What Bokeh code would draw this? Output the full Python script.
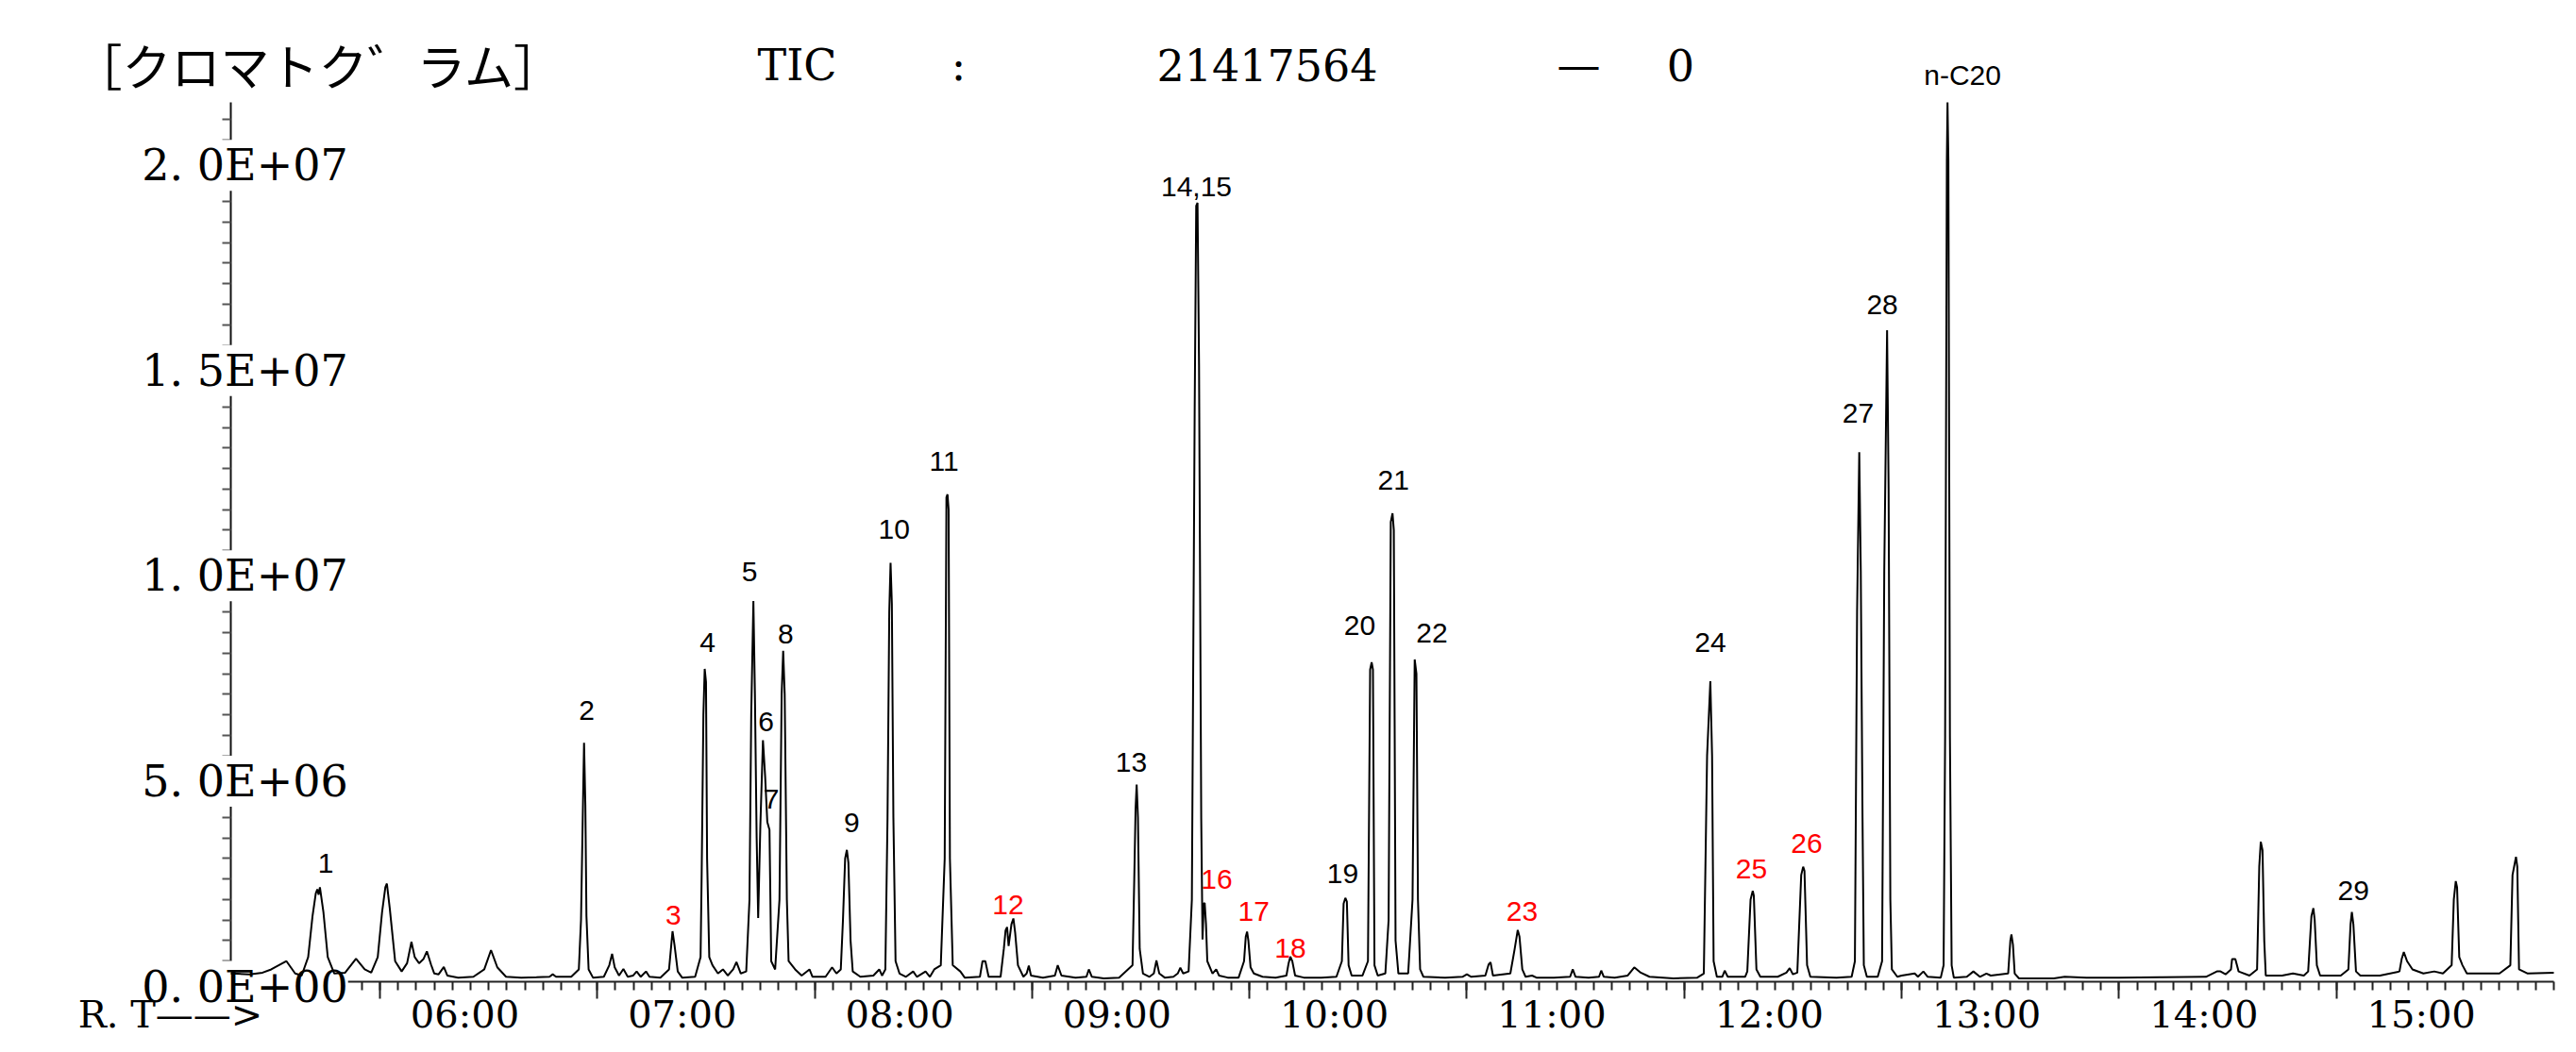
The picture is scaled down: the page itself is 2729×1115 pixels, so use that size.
from bokeh.plotting import figure
from bokeh.models import (ColumnDataSource, LabelSet, Label, FixedTicker, Range1d, LinearAxis)
from bokeh.core.properties import value
from bokeh.embed import file_html
from bokeh.resources import INLINE

# ---------------- data ----------------
X_START, X_END = 5.314, 16.0          # retention time window of the axis (min)
Y_MAX = 21417564                       # TIC full scale

# TIC trace: retention time (min) and intensity (millions of counts)
rt_min = [
    5.314, 5.40, 5.46, 5.50, 5.57, 5.61, 5.64, 5.67, 5.69, 5.705, 5.712, 5.718, 5.724, 5.74, 5.76, 5.79,
    5.84, 5.89, 5.93, 5.96, 5.99, 6.01, 6.025, 6.032, 6.045, 6.07, 6.10, 6.125, 6.145, 6.16, 6.18, 6.20,
    6.216, 6.235, 6.25, 6.27, 6.294, 6.31, 6.36, 6.43, 6.48, 6.511, 6.54, 6.58, 6.65, 6.72, 6.78, 6.795,
    6.81, 6.88, 6.915, 6.925, 6.933, 6.939, 6.945, 6.95, 6.96, 6.98, 7.03, 7.055, 7.068, 7.08, 7.10, 7.12,
    7.14, 7.165, 7.181, 7.20, 7.224, 7.24, 7.29, 7.33, 7.346, 7.355, 7.37, 7.39, 7.45, 7.475, 7.48, 7.488,
    7.494, 7.50, 7.505, 7.515, 7.53, 7.555, 7.578, 7.60, 7.625, 7.64, 7.66, 7.685, 7.70, 7.708, 7.718, 7.725,
    7.733, 7.740, 7.75, 7.762, 7.772, 7.782, 7.792, 7.80, 7.818, 7.838, 7.848, 7.855, 7.862, 7.872, 7.88, 7.91,
    7.94, 7.976, 7.99, 8.05, 8.08, 8.10, 8.12, 8.13, 8.14, 8.148, 8.155, 8.165, 8.175, 8.21, 8.27, 8.297,
    8.31, 8.325, 8.335, 8.343, 8.349, 8.355, 8.362, 8.372, 8.39, 8.42, 8.453, 8.47, 8.51, 8.53, 8.55, 8.58,
    8.598, 8.606, 8.611, 8.616, 8.622, 8.635, 8.67, 8.69, 8.76, 8.772, 8.785, 8.80, 8.855, 8.87, 8.878, 8.885,
    8.892, 8.905, 8.914, 8.922, 8.935, 8.96, 8.975, 8.985, 8.995, 9.05, 9.105, 9.118, 9.135, 9.20, 9.25, 9.261,
    9.275, 9.33, 9.40, 9.462, 9.47, 9.476, 9.481, 9.487, 9.495, 9.51, 9.54, 9.56, 9.572, 9.585, 9.61, 9.65,
    9.67, 9.682, 9.695, 9.72, 9.735, 9.748, 9.755, 9.761, 9.768, 9.778, 9.784, 9.790, 9.794, 9.80, 9.806, 9.83,
    9.847, 9.86, 9.90, 9.95, 9.975, 9.983, 9.989, 9.995, 10.005, 10.02, 10.06, 10.12, 10.17, 10.18, 10.188, 10.197,
    10.21, 10.25, 10.33, 10.40, 10.425, 10.433, 10.441, 10.448, 10.456, 10.47, 10.52, 10.545, 10.555, 10.562, 10.568, 10.575,
    10.59, 10.625, 10.64, 10.65, 10.658, 10.664, 10.672, 10.685, 10.73, 10.75, 10.76, 10.768, 10.775, 10.785, 10.80, 10.90,
    10.98, 11.00, 11.02, 11.085, 11.10, 11.109, 11.12, 11.20, 11.22, 11.234, 11.242, 11.255, 11.27, 11.30, 11.32, 11.40,
    11.475, 11.487, 11.50, 11.56, 11.608, 11.618, 11.63, 11.68, 11.74, 11.77, 11.80, 11.84, 11.95, 12.06, 12.09, 12.105,
    12.12, 12.128, 12.135, 12.15, 12.175, 12.186, 12.20, 12.28, 12.29, 12.305, 12.315, 12.32, 12.332, 12.35, 12.43, 12.47,
    12.485, 12.50, 12.52, 12.538, 12.547, 12.553, 12.565, 12.58, 12.70, 12.77, 12.785, 12.795, 12.805, 12.812, 12.82, 12.826,
    12.84, 12.89, 12.91, 12.92, 12.933, 12.94, 12.948, 12.955, 12.98, 13.00, 13.06, 13.075, 13.10, 13.12, 13.18, 13.193,
    13.20, 13.208, 13.211, 13.215, 13.222, 13.23, 13.24, 13.30, 13.33, 13.36, 13.39, 13.41, 13.49, 13.50, 13.505, 13.512,
    13.52, 13.54, 13.70, 13.75, 13.85, 14.00, 14.20, 14.40, 14.45, 14.467, 14.49, 14.515, 14.52, 14.535, 14.55, 14.60,
    14.635, 14.645, 14.652, 14.66, 14.668, 14.675, 14.75, 14.80, 14.85, 14.87, 14.885, 14.894, 14.90, 14.91, 14.925, 15.02,
    15.055, 15.065, 15.071, 15.078, 15.09, 15.11, 15.20, 15.29, 15.30, 15.31, 15.325, 15.35, 15.40, 15.45, 15.49, 15.53,
    15.54, 15.549, 15.555, 15.565, 15.58, 15.60, 15.75, 15.80, 15.81, 15.826, 15.832, 15.84, 15.88, 16.0,
]
tic_mcounts = [
    0.20, 0.18, 0.22, 0.30, 0.50, 0.20, 0.15, 0.60, 1.60, 2.15, 2.25, 2.12, 2.30, 1.70, 0.60, 0.20,
    0.22, 0.56, 0.30, 0.22, 0.60, 1.70, 2.30, 2.39, 1.80, 0.50, 0.25, 0.45, 0.97, 0.60, 0.45, 0.55,
    0.74, 0.42, 0.20, 0.18, 0.36, 0.15, 0.10, 0.12, 0.30, 0.77, 0.35, 0.12, 0.10, 0.11, 0.12, 0.18,
    0.12, 0.12, 0.30, 1.50, 4.00, 5.82, 4.30, 1.60, 0.30, 0.10, 0.12, 0.40, 0.68, 0.35, 0.15, 0.31,
    0.12, 0.15, 0.25, 0.12, 0.25, 0.12, 0.10, 0.30, 1.23, 0.90, 0.25, 0.10, 0.12, 0.60, 2.60, 6.50,
    7.62, 7.30, 3.00, 0.60, 0.40, 0.20, 0.30, 0.15, 0.30, 0.48, 0.20, 0.25, 2.00, 6.50, 9.27, 7.00,
    3.50, 1.55, 3.80, 5.88, 5.00, 3.89, 3.70, 0.50, 0.30, 2.00, 7.00, 8.06, 7.00, 2.00, 0.50, 0.30,
    0.15, 0.30, 0.12, 0.12, 0.35, 0.20, 0.30, 1.50, 3.00, 3.21, 2.90, 1.00, 0.25, 0.12, 0.15, 0.30,
    0.15, 0.30, 4.00, 9.00, 10.2, 9.20, 4.00, 0.50, 0.20, 0.12, 0.25, 0.12, 0.25, 0.12, 0.30, 0.40,
    3.00, 11.8, 11.87, 11.5, 3.00, 0.40, 0.25, 0.10, 0.12, 0.50, 0.50, 0.12, 0.12, 0.80, 1.25, 1.33,
    0.87, 1.40, 1.54, 1.20, 0.40, 0.12, 0.20, 0.39, 0.15, 0.10, 0.15, 0.40, 0.15, 0.10, 0.12, 0.30,
    0.12, 0.08, 0.10, 0.40, 2.50, 4.20, 4.80, 4.00, 0.80, 0.20, 0.12, 0.20, 0.52, 0.20, 0.10, 0.12,
    0.20, 0.34, 0.20, 0.25, 2.00, 14.0, 18.9, 18.97, 15.0, 4.00, 1.03, 1.90, 1.92, 1.40, 0.50, 0.20,
    0.30, 0.15, 0.10, 0.10, 0.50, 1.10, 1.22, 1.00, 0.35, 0.20, 0.12, 0.10, 0.15, 0.45, 0.61, 0.50,
    0.15, 0.10, 0.10, 0.12, 0.50, 1.90, 2.04, 1.95, 0.40, 0.15, 0.15, 0.50, 7.60, 7.78, 7.60, 0.40,
    0.15, 0.20, 1.50, 11.2, 11.41, 11.0, 1.00, 0.20, 0.20, 2.00, 7.85, 7.50, 2.00, 0.30, 0.12, 0.10,
    0.12, 0.18, 0.12, 0.15, 0.42, 0.47, 0.15, 0.20, 0.80, 1.26, 1.10, 0.30, 0.12, 0.15, 0.10, 0.10,
    0.12, 0.30, 0.12, 0.10, 0.12, 0.27, 0.12, 0.10, 0.15, 0.35, 0.22, 0.12, 0.08, 0.10, 0.20, 5.50,
    7.32, 5.50, 0.50, 0.12, 0.12, 0.27, 0.12, 0.12, 0.25, 2.00, 2.21, 2.10, 0.30, 0.12, 0.12, 0.22,
    0.33, 0.18, 0.22, 2.60, 2.80, 2.70, 0.40, 0.12, 0.10, 0.12, 0.50, 9.00, 12.9, 10.0, 4.00, 0.40,
    0.12, 0.12, 0.50, 10.0, 15.87, 12.0, 2.00, 0.30, 0.12, 0.15, 0.20, 0.12, 0.25, 0.12, 0.10, 0.40,
    6.00, 20.0, 21.4176, 20.0, 6.00, 0.40, 0.10, 0.12, 0.25, 0.12, 0.20, 0.15, 0.20, 1.00, 1.15, 0.90,
    0.20, 0.08, 0.08, 0.12, 0.10, 0.10, 0.11, 0.12, 0.25, 0.25, 0.18, 0.30, 0.55, 0.55, 0.25, 0.15,
    0.30, 2.80, 3.41, 3.20, 1.00, 0.15, 0.15, 0.20, 0.15, 0.25, 1.60, 1.79, 1.50, 0.40, 0.15, 0.15,
    0.30, 1.40, 1.70, 1.40, 0.25, 0.15, 0.15, 0.25, 0.55, 0.72, 0.50, 0.30, 0.20, 0.25, 0.20, 0.40,
    2.00, 2.45, 2.30, 0.60, 0.40, 0.20, 0.20, 0.40, 2.60, 3.04, 2.80, 0.30, 0.20, 0.22,
]

# peak annotations
peak_labels = ["1", "2", "3", "4", "5", "6", "7", "8", "9", "10", "11", "12", "13", "14,15",
               "16", "17", "18", "19", "20", "21", "22", "23", "24", "25", "26", "27", "28",
               "n-C20", "29"]
peak_label_rt = [5.751, 6.951, 7.350, 7.507, 7.700, 7.776, 7.800, 7.867, 8.170, 8.365, 8.595,
                 8.890, 9.456, 9.756, 9.849, 10.020, 10.188, 10.429, 10.507, 10.662, 10.839,
                 11.254, 12.120, 12.309, 12.563, 12.800, 12.911, 13.280, 15.078]
peak_label_mcounts = [3.03, 6.74, 1.76, 8.41, 10.12, 6.46, 4.58, 8.60, 4.01, 11.15, 12.81,
                      2.00, 5.47, 19.49, 2.62, 1.84, 0.95, 2.77, 8.81, 12.36, 8.64,
                      1.85, 8.40, 2.88, 3.50, 13.98, 16.62, 22.22, 2.35]
red_peaks = ["3", "12", "16", "17", "18", "23", "25", "26"]

# axes
x_major_ticks = [6, 7, 8, 9, 10, 11, 12, 13, 14, 15]
x_tick_labels = ["06:00", "07:00", "08:00", "09:00", "10:00", "11:00", "12:00", "13:00", "14:00", "15:00"]
y_major_ticks = [0, 5e6, 1e7, 1.5e7, 2e7]
y_tick_labels = ["0. 0E+00", "5. 0E+06", "1. 0E+07", "1. 5E+07", "2. 0E+07"]

title_left = "［クロマトク゛ラム］"
title_parts = ["TIC", ":", "21417564", "—", "0"]
x_axis_prefix = "R. T——>"

# ---------------- layout (pixels) ----------------
W, H = 2713, 1099
PLOT_L, PLOT_R, PLOT_T, PLOT_B = 244, 2705, 108, 1040   # plot box inside the canvas
SERIF = "DejaVu Serif"
SANS = "Liberation Sans"
CJK = "Noto Sans CJK JP"

# ranges span the whole canvas so that outside texts are not clipped
px_per_min = (PLOT_R - PLOT_L) / (X_END - X_START)
px_per_count = (PLOT_B - PLOT_T) / Y_MAX
x_rng = Range1d(X_START - PLOT_L / px_per_min, X_END + (W - PLOT_R) / px_per_min)
y_rng = Range1d(-(H - PLOT_B) / px_per_count, Y_MAX + PLOT_T / px_per_count)

p = figure(width=W, height=H, output_backend="svg", toolbar_location=None,
           x_range=x_rng, y_range=y_rng, x_axis_location=None, y_axis_location=None,
           min_border_left=0, min_border_right=0, min_border_top=0, min_border_bottom=0)
p.outline_line_color = None
p.grid.visible = False
p.background_fill_color = "white"
p.border_fill_color = "white"

xa = LinearAxis(fixed_location=0, bounds=(X_START, X_END),
                ticker=FixedTicker(ticks=x_major_ticks, minor_ticks=[m / 12 for m in range(64, 193)]))
xa.major_tick_out = 18
xa.major_tick_in = 0
xa.minor_tick_out = 9
xa.minor_tick_in = 0
xa.axis_line_width = 2
xa.major_tick_line_width = 2
xa.minor_tick_line_width = 2
xa.axis_line_color = "#222222"
xa.major_tick_line_color = "#222222"
xa.minor_tick_line_color = "#222222"
xa.major_label_text_color = None
p.add_layout(xa, "below")

ya = LinearAxis(fixed_location=X_START, bounds=(0, Y_MAX),
                ticker=FixedTicker(ticks=y_major_ticks, minor_ticks=[k * 5e5 for k in range(0, 43)]))
ya.major_tick_out = 9
ya.major_tick_in = 0
ya.minor_tick_out = 9
ya.minor_tick_in = 0
ya.axis_line_width = 2
ya.axis_line_color = "#111111"
ya.major_tick_line_color = "#555555"
ya.minor_tick_line_color = "#555555"
ya.major_tick_line_width = 2
ya.minor_tick_line_width = 2
ya.major_label_text_color = None
p.add_layout(ya, "left")

# trace
trace = p.line(rt_min, [v * 1e6 for v in tic_mcounts], line_color="black", line_width=2)
trace.level = "overlay"

# peak labels
lab_src = ColumnDataSource(dict(
    x=peak_label_rt,
    y=[v * 1e6 for v in peak_label_mcounts],
    text=peak_labels,
    color=["#ff0000" if s in red_peaks else "black" for s in peak_labels],
))
p.add_layout(LabelSet(x="x", y="y", text="text", source=lab_src, text_color="color",
                      y_offset=-6, text_font=value(SANS), text_font_size="30px",
                      text_align="center", text_baseline="middle"))

# y tick labels (centred on the axis line, white box interrupts the axis)
for v, s in zip(y_major_ticks, y_tick_labels):
    p.add_layout(Label(x=X_START, y=v, x_offset=15, y_offset=-5, text=s, text_font=SERIF,
                       text_font_size="46px", text_align="center", text_baseline="middle",
                       text_color="black", background_fill_color="white"))

# x tick labels
xt_src = ColumnDataSource(dict(x=x_major_ticks, y=[0] * len(x_major_ticks), text=x_tick_labels))
xt = LabelSet(x="x", y="y", text="text", source=xt_src, x_offset=90, y_offset=-48,
              text_font=value(SERIF), text_font_size="40px", text_align="center",
              text_baseline="alphabetic", text_color="black")
xt.level = "overlay"
p.add_layout(xt)
pre_src = ColumnDataSource(dict(x=[X_START], y=[0], text=[x_axis_prefix]))
pre = LabelSet(x="x", y="y", text="text", source=pre_src, x_offset=-64, y_offset=-48,
               text_font=value(SERIF), text_font_size="40px", text_align="center",
               text_baseline="alphabetic", text_color="black")
pre.level = "overlay"
p.add_layout(pre)

# title
p.add_layout(Label(x=X_START, y=Y_MAX, x_offset=93, y_offset=40, text=title_left,
                   text_font=CJK, text_font_size="52px", text_align="center",
                   text_baseline="middle", text_color="black"))
for s, off in zip(title_parts, [600, 771, 1098, 1428, 1536]):
    p.add_layout(Label(x=X_START, y=Y_MAX, x_offset=off, y_offset=40, text=s,
                       text_font=SERIF, text_font_size="46px", text_align="center",
                       text_baseline="middle", text_color="black"))

open("out.html", "w").write(file_html(p, INLINE))
